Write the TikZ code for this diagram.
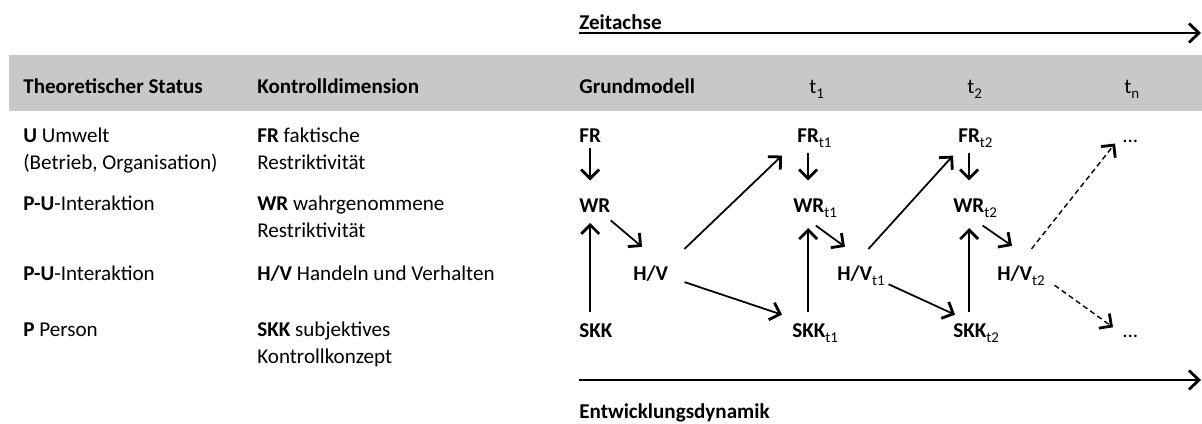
\documentclass[tikz,border=0pt]{standalone}
\usepackage{fontspec}
\setmainfont{Carlito}
\usepackage{tikz}
\usetikzlibrary{arrows.meta}
\definecolor{bandGray}{HTML}{C8C8C8}
\newcommand{\tsub}[1]{\rlap{\raisebox{-0.5ex}{\fontsize{8.5}{9}\selectfont\mdseries #1}}}

\begin{document}
\begin{tikzpicture}[x=0.02cm, y=-0.02cm,
    txt/.style={anchor=base west, inner sep=0pt, align=left, font=\fontsize{12}{15.3}\selectfont},
    hd/.style={txt, font=\fontsize{12}{15.3}\selectfont\bfseries},
    var/.style={anchor=base west, inner sep=0pt, font=\fontsize{12}{14}\selectfont\bfseries},
    arr/.style={line width=1pt, -{Straight Barb[length=1.8mm, width=3.6mm, line width=1.6pt]}},
    dasharr/.style={arr, line width=0.8pt, dash pattern=on 3pt off 2pt},
    axis/.style={line width=1.1pt, -{Straight Barb[length=2mm, width=3.8mm, line width=1.6pt]}}
  ]
  \useasboundingbox (0,0) rectangle (1202,423);

  % header band
  \fill[bandGray] (9,55) rectangle (1202,111);
  \node[hd] (hstat) at (23,93)  {Theoretischer Status};
  \node[hd] (hdim)  at (257,93) {Kontrolldimension};
  \node[hd] (hgrund) at (579,93) {Grundmodell};
  \node[txt] (ht1) at (809,93)  {t\tsub{1}};
  \node[txt] (ht2) at (967,93)  {t\tsub{2}};
  \node[txt] (htn) at (1124,93) {t\tsub{n}};

  % time axes
  \node[hd] (zeit) at (579,29) {Zeitachse};
  \coordinate (zend) at (1201,33);
  \draw[axis] (zeit.south west |- zend) -- (zend);
  \node[hd] (entw) at (579,418) {Entwicklungsdynamik};
  \coordinate (dend) at (1201,380);
  \draw[axis] (entw.north west |- dend) -- (dend);

  % left columns (two-line nodes sit on the baseline of their last line)
  \node[txt] (stU)   at (23,169) {\textbf{U} Umwelt\\(Betrieb, Organisation)};
  \node[txt] (stPU1) at (23,210) {\textbf{P-U}-Interaktion};
  \node[txt] (stPU2) at (23,280) {\textbf{P-U}-Interaktion};
  \node[txt] (stP)   at (23,336) {\textbf{P} Person};
  \node[txt] (dFR)   at (257,169) {\textbf{FR} faktische\\Restriktivität};
  \node[txt] (dWR)   at (257,237) {\textbf{WR} wahrgenommene\\Restriktivität};
  \node[txt] (dHV)   at (257,280) {\textbf{H/V} Handeln und Verhalten};
  \node[txt] (dSKK)  at (257,363) {\textbf{SKK} subjektives\\Kontrollkonzept};

  % Grundmodell
  \node[var] (fr0)  at (579,142) {FR};
  \node[var] (wr0)  at (579,212) {WR};
  \node[var] (hv0)  at (633,280) {H/V};
  \node[var] (skk0) at (579,337) {SKK};
  % t1
  \node[var] (fr1)  at (797,142) {FR\tsub{t1}};
  \node[var] (wr1)  at (793,212) {WR\tsub{t1}};
  \node[var] (hv1)  at (837,280) {H/V\tsub{t1}};
  \node[var] (skk1) at (792,337) {SKK\tsub{t1}};
  % t2
  \node[var] (fr2)  at (958,142) {FR\tsub{t2}};
  \node[var] (wr2)  at (953,212) {WR\tsub{t2}};
  \node[var] (hv2)  at (997,280) {H/V\tsub{t2}};
  \node[var] (skk2) at (953,337) {SKK\tsub{t2}};
  % tn
  \node[txt] (dotsU) at (1122,142) {...};
  \node[txt] (dotsP) at (1122,337) {...};

  \draw[arr, shorten <=3pt, shorten >=10pt] (fr0.south) -- (fr0.south |- wr0.north);
  \draw[arr, shorten <=6pt, shorten >=6pt] (skk0.north -| fr0.south) -- (wr0.south -| fr0.south);
  \draw[arr] ([shift={(0,8)}]wr0.south east) -- ([shift={(9,-18)}]hv0.north west);
  \draw[arr] ([shift={(16,-16)}]hv0.north east) -- ([shift={(-15,8)}]fr1.south west);
  \draw[arr] ([shift={(16,9)}]hv0.east) -- ([shift={(-10,-18)}]skk1.west);

  \draw[arr, shorten <=3pt, shorten >=10pt] (fr1.south) -- (fr1.south |- wr1.north);
  \draw[arr, shorten <=6pt, shorten >=6pt] (skk1.north -| fr1.south) -- (wr1.south -| fr1.south);
  \draw[arr] ([shift={(7,8)}]wr1.south) -- ([shift={(8,-18)}]hv1.north west);
  \draw[arr] ([shift={(-4,-16)}]hv1.north east) -- ([shift={(-5,8)}]fr2.south west);
  \draw[arr] ([shift={(16,9)}]hv1.east) -- ([shift={(2,-18)}]skk2.west);

  \draw[arr, shorten <=3pt, shorten >=10pt] (fr2.south) -- (fr2.south |- wr2.north);
  \draw[arr, shorten <=6pt, shorten >=6pt] (skk2.north -| fr2.south) -- (wr2.south -| fr2.south);
  \draw[arr] ([shift={(-2,8)}]wr2.south east) -- ([shift={(15,-19)}]hv2.north west);
  \draw[dasharr] ([shift={(-1,-16)}]hv2.north east) -- ([shift={(-7,1)}]dotsU.south west);
  \draw[dasharr] ([shift={(22,10)}]hv2.east) -- ([shift={(-9,-7)}]dotsP.north west);
\end{tikzpicture}
\end{document}
